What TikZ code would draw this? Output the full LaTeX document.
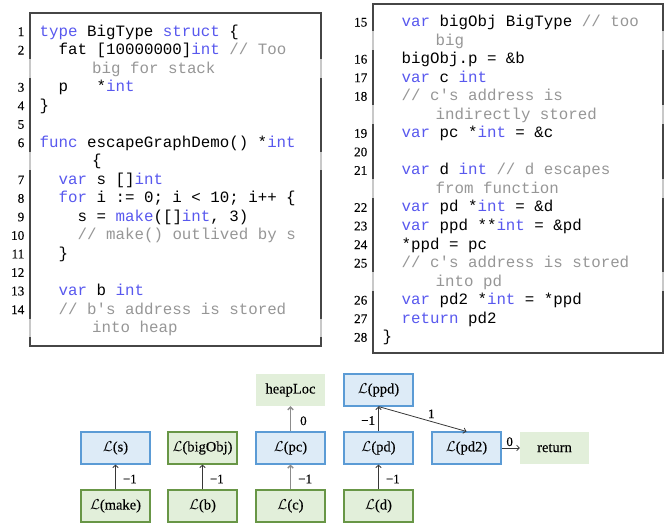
\documentclass[tikz,border=0pt]{standalone}
\usepackage{fontspec}
\setmainfont{Liberation Serif}[FakeBold=0.25]
\setmonofont{Liberation Mono}
\usetikzlibrary{arrows.meta}

\definecolor{kwblue}{RGB}{88,88,238}
\definecolor{cmgray}{RGB}{150,150,150}
\definecolor{framegray}{RGB}{70,70,70}
\definecolor{framelight}{RGB}{200,200,200}
\definecolor{fillblue}{RGB}{221,235,247}
\definecolor{lineblue}{RGB}{91,155,213}
\definecolor{fillgreen}{RGB}{226,239,218}
\definecolor{linegreen}{RGB}{104,150,70}
\definecolor{arrowdark}{RGB}{55,55,55}
\definecolor{arrowgray}{RGB}{140,140,140}

\newcommand\kw[1]{\textcolor{kwblue}{#1}}
\newcommand\cm[1]{\textcolor{cmgray}{#1}}
\newcommand\Lof[1]{$\mathcal{L}$(#1)}

\tikzset{
  code/.style={anchor=base west, inner sep=0pt, font=\fontsize{15.8}{18}\ttfamily},
  lnum/.style={anchor=base east, inner sep=0pt, font=\fontsize{13.2}{15}\selectfont},
  codeframe/.style={draw=framegray, line width=1.2pt},
  gnode/.style={minimum width=69pt, minimum height=32pt, inner sep=0pt,
    font=\fontsize{14.5}{16}\selectfont},
  bluebox/.style={gnode, fill=fillblue, draw=lineblue, line width=1.1pt},
  greenbox/.style={gnode, fill=fillgreen, draw=linegreen, line width=1.1pt},
  plainbox/.style={gnode, fill=fillgreen},
  barb/.style={-{Straight Barb[length=2.6pt,width=5.5pt]}},
  darr/.style={barb, draw=arrowdark, line width=0.8pt},
  garr/.style={barb, draw=arrowgray, line width=1.4pt},
  elbl/.style={inner sep=0pt, font=\fontsize{13}{15}\selectfont}
}

\begin{document}
\begin{tikzpicture}[x=1pt, y=-1pt]
\useasboundingbox (0,0) rectangle (667,523);

% ---------- left listing ----------
\draw[codeframe] (30,13) rectangle (321,346);
\foreach \b in {73.1,165.7,332.5}
  \draw[framelight, line width=1.2pt] (30,\b-14) -- (30,\b+4.5) (321,\b-14) -- (321,\b+4.5);

\node[lnum] (n1)  at (24.5,36.0)  {1};
\node[lnum] (n2)  at (24.5,54.5)  {2};
\node[lnum] (n3)  at (24.5,91.6)  {3};
\node[lnum] (n4)  at (24.5,110.1) {4};
\node[lnum] (n5)  at (24.5,128.7) {5};
\node[lnum] (n6)  at (24.5,147.2) {6};
\node[lnum] (n7)  at (24.5,184.2) {7};
\node[lnum] (n8)  at (24.5,202.8) {8};
\node[lnum] (n9)  at (24.5,221.3) {9};
\node[lnum] (n10) at (24.5,239.8) {10};
\node[lnum] (n11) at (24.5,258.4) {11};
\node[lnum] (n12) at (24.5,276.9) {12};
\node[lnum] (n13) at (24.5,295.4) {13};
\node[lnum] (n14) at (24.5,314.0) {14};

\node[code] (c1)  at (39.5,36.0)  {\kw{type} BigType \kw{struct} \{};
\node[code] (c2)  at (58.5,54.5)  {fat [10000000]\kw{int} \cm{// Too}};
\node[code] (c2b) at (92.0,73.1)  {\cm{big for stack}};
\node[code] (c3)  at (58.5,91.6)  {p\ \ \ *\kw{int}};
\node[code] (c4)  at (39.5,110.1) {\}};
\node[code] (c6)  at (39.5,147.2) {\kw{func} escapeGraphDemo() *\kw{int}};
\node[code] (c6b) at (92.0,165.7) {\{};
\node[code] (c7)  at (58.5,184.2) {\kw{var} s []\kw{int}};
\node[code] (c8)  at (58.5,202.8) {\kw{for} i := 0; i < 10; i++ \{};
\node[code] (c9)  at (77.5,221.3) {s = \kw{make}([]\kw{int}, 3)};
\node[code] (c10) at (77.5,239.8) {\cm{// make() outlived by s}};
\node[code] (c11) at (58.5,258.4) {\}};
\node[code] (c13) at (58.5,295.4) {\kw{var} b \kw{int}};
\node[code] (c14) at (58.5,314.0) {\cm{// b's address is stored}};
\node[code] (c14b) at (92.0,332.5) {\cm{into heap}};

% ---------- right listing ----------
\draw[codeframe] (373,4) rectangle (663,353);
\foreach \b in {45.0,119.2,193.4,286.1}
  \draw[framelight, line width=1.2pt] (373,\b-14) -- (373,\b+4.5) (663,\b-14) -- (663,\b+4.5);

\node[lnum] (n15) at (367.5,26.5)  {15};
\node[lnum] (n16) at (367.5,63.6)  {16};
\node[lnum] (n17) at (367.5,82.1)  {17};
\node[lnum] (n18) at (367.5,100.7) {18};
\node[lnum] (n19) at (367.5,137.7) {19};
\node[lnum] (n20) at (367.5,156.3) {20};
\node[lnum] (n21) at (367.5,174.8) {21};
\node[lnum] (n22) at (367.5,211.9) {22};
\node[lnum] (n23) at (367.5,230.4) {23};
\node[lnum] (n24) at (367.5,249.0) {24};
\node[lnum] (n25) at (367.5,267.5) {25};
\node[lnum] (n26) at (367.5,304.6) {26};
\node[lnum] (n27) at (367.5,323.1) {27};
\node[lnum] (n28) at (367.5,341.7) {28};

\node[code] (c15)  at (401.5,26.5)  {\kw{var} bigObj BigType \cm{// too}};
\node[code] (c15b) at (435.5,45.0)  {\cm{big}};
\node[code] (c16)  at (401.5,63.6)  {bigObj.p = \&b};
\node[code] (c17)  at (401.5,82.1)  {\kw{var} c \kw{int}};
\node[code] (c18)  at (401.5,100.7) {\cm{// c's address is}};
\node[code] (c18b) at (435.5,119.2) {\cm{indirectly stored}};
\node[code] (c19)  at (401.5,137.7) {\kw{var} pc *\kw{int} = \&c};
\node[code] (c21)  at (401.5,174.8) {\kw{var} d \kw{int} \cm{// d escapes}};
\node[code] (c21b) at (435.5,193.4) {\cm{from function}};
\node[code] (c22)  at (401.5,211.9) {\kw{var} pd *\kw{int} = \&d};
\node[code] (c23)  at (401.5,230.4) {\kw{var} ppd **\kw{int} = \&pd};
\node[code] (c24)  at (401.5,249.0) {*ppd = pc};
\node[code] (c25)  at (401.5,267.5) {\cm{// c's address is stored}};
\node[code] (c25b) at (435.5,286.1) {\cm{into pd}};
\node[code] (c26)  at (401.5,304.6) {\kw{var} pd2 *\kw{int} = *ppd};
\node[code] (c27)  at (401.5,323.1) {\kw{return} pd2};
\node[code] (c28)  at (382.5,341.7) {\}};

% ---------- escape graph ----------
\node[bluebox]  (s)      at (115.5,448) {\Lof{s}};
\node[greenbox] (make)   at (115.5,506) {\Lof{make}};
\node[greenbox] (bigObj) at (202.5,448) {\Lof{bigObj}};
\node[greenbox] (b)      at (202.5,506) {\Lof{b}};
\node[plainbox] (heap)   at (290.5,390) {heapLoc};
\node[bluebox]  (pc)     at (290.5,448) {\Lof{pc}};
\node[greenbox] (c)      at (290.5,506) {\Lof{c}};
\node[bluebox]  (ppd)    at (378.5,390) {\Lof{ppd}};
\node[bluebox]  (pd)     at (378.5,448) {\Lof{pd}};
\node[greenbox] (d)      at (378.5,506) {\Lof{d}};
\node[bluebox]  (pd2)    at (466.5,448) {\Lof{pd2}};
\node[plainbox] (ret)    at (554.5,448) {return};

\draw[darr] (make.north) -- node[elbl, anchor=west, xshift=7pt, yshift=-2pt] {−1} (s.south);
\draw[darr] (b.north) -- node[elbl, anchor=west, xshift=7pt, yshift=-2pt] {−1} (bigObj.south);
\draw[garr] (c.north) -- node[elbl, anchor=west, xshift=7pt, yshift=-2pt] {−1} (pc.south);
\draw[garr] (pc.north) -- node[elbl, anchor=west, xshift=9pt, yshift=-2pt] {0} (heap.south);
\draw[darr] (d.north) -- node[elbl, anchor=west, xshift=7pt, yshift=-2pt] {−1} (pd.south);
\draw[darr] (pd.north) -- node[elbl, anchor=east, xshift=-3pt, yshift=-1.5pt] {−1} (ppd.south);
\draw[darr] (ppd.south) -- node[elbl, pos=0.6, above, yshift=3pt] {1} (pd2.north);
\draw[darr] (pd2.east) -- node[elbl, above, yshift=1.5pt, xshift=-1pt] {0} (ret.west);
\end{tikzpicture}
\end{document}
